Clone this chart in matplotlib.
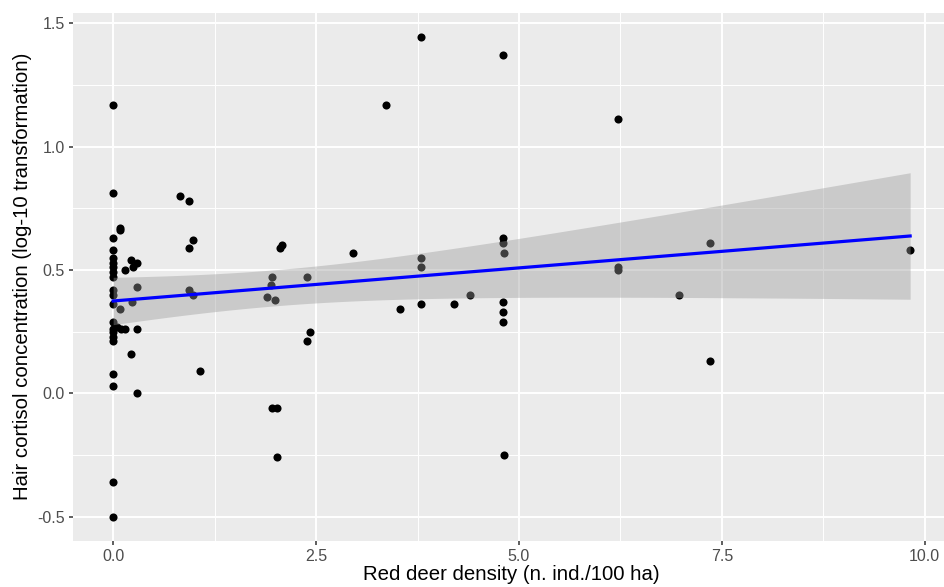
import numpy as np
import matplotlib.pyplot as plt

# Data
density = [0, 0, 0, 0, 0, 0, 0, 0, 0, 0, 0, 0, 0, 0, 0, 0, 0, 0, 0, 0, 0,
           0.08, 0.09, 0.14, 0.22, 0.25, 0.29, 0.29, 0.23, 0.08, 0.05, 0.10, 0.15, 0.29, 0.22, 0.29,
           0.82, 0.94, 0.98, 0.94, 0.94, 0.98, 1.07,
           2.05, 2.08, 1.96, 1.94, 1.90, 2.00, 2.39, 2.96, 2.43, 2.39, 1.96, 2.02, 2.02,
           3.36, 3.79, 3.79, 3.79, 3.54, 3.79, 4.20, 4.40,
           4.80, 4.80, 4.80, 4.82, 4.80, 4.80, 4.80, 4.82,
           6.22, 6.22, 6.22, 7.36, 6.97, 7.36, 9.82]
cortisol = [1.17, 0.81, 0.63, 0.58, 0.55, 0.53, 0.51, 0.49, 0.47, 0.42, 0.40, 0.36, 0.29, 0.26, 0.25, 0.23, 0.21, 0.08, 0.03, -0.36, -0.50,
            0.67, 0.66, 0.50, 0.54, 0.51, 0.53, 0.43, 0.37, 0.34, 0.27, 0.26, 0.26, 0.26, 0.16, 0.00,
            0.80, 0.78, 0.62, 0.59, 0.42, 0.40, 0.09,
            0.59, 0.60, 0.47, 0.44, 0.39, 0.38, 0.47, 0.57, 0.25, 0.21, -0.06, -0.06, -0.26,
            1.17, 1.445, 0.55, 0.51, 0.34, 0.36, 0.36, 0.40,
            1.37, 0.63, 0.61, 0.57, 0.37, 0.33, 0.29, -0.25,
            1.11, 0.51, 0.50, 0.61, 0.40, 0.13, 0.58]
x_ticks = [0.0, 2.5, 5.0, 7.5, 10.0]
y_ticks = [-0.5, 0.0, 0.5, 1.0, 1.5]

x = np.array(density)
y = np.array(cortisol)

# linear fit with 95% confidence band (like geom_smooth(method = "lm"))
n = len(x)
slope, intercept = np.polyfit(x, y, 1)
resid = y - (intercept + slope * x)
s = np.sqrt(np.sum(resid ** 2) / (n - 2))
sxx = np.sum((x - x.mean()) ** 2)
xs = np.linspace(x.min(), x.max(), 100)
fit = intercept + slope * xs
se = s * np.sqrt(1 / n + (xs - x.mean()) ** 2 / sxx)
t_crit = 1.99
lo, hi = fit - t_crit * se, fit + t_crit * se

plt.rcParams['font.family'] = ['Liberation Sans', 'DejaVu Sans']

fig = plt.figure(figsize=(9.44, 5.87), dpi=100)
W, H = 944, 587
left, top, right, bottom = 73.3, 12.7, 950, 540.7
ax = fig.add_axes([left / W, (H - bottom) / H, (right - left) / W, (bottom - top) / H])
ax.set_facecolor('#EBEBEB')

ax.scatter(x, y, s=34, color='black', zorder=3, linewidths=0)
ax.fill_between(xs, lo, hi, color='#999999', alpha=0.4, linewidth=0, zorder=4)
ax.plot(xs, fit, color='#0000FF', linewidth=2.3, zorder=5)

pad_x = 0.05 * (x.max() - x.min())
pad_y = 0.05 * (y.max() - y.min())
ax.set_xlim(x.min() - pad_x, x.max() + pad_x)
ax.set_ylim(y.min() - pad_y, y.max() + pad_y)

ax.set_xticks(x_ticks)
ax.set_xticklabels(['0.0', '2.5', '5.0', '7.5', '10.0'])
ax.set_yticks(y_ticks)
ax.set_yticklabels(['-0.5', '0.0', '0.5', '1.0', '1.5'])
ax.set_xticks([1.25, 3.75, 6.25, 8.75], minor=True)
ax.set_yticks([-0.25, 0.25, 0.75, 1.25], minor=True)

ax.grid(True, which='major', color='white', linewidth=1.4, zorder=0)
ax.grid(True, which='minor', color='white', linewidth=0.7, zorder=0)
ax.set_axisbelow(True)
for sp in ax.spines.values():
    sp.set_visible(False)

ax.tick_params(which='major', length=3, width=1.1, color='#333333',
               labelcolor='#4D4D4D', labelsize=11.5, pad=3)
ax.tick_params(which='minor', length=0)

ax.set_xlabel('Red deer density (n. ind./100 ha)', fontsize=14.7, color='black', labelpad=1)
ax.set_ylabel('Hair cortisol concentration (log-10 transformation)', fontsize=14.7,
              color='black', labelpad=4)

fig.savefig('out.png', dpi=100)
